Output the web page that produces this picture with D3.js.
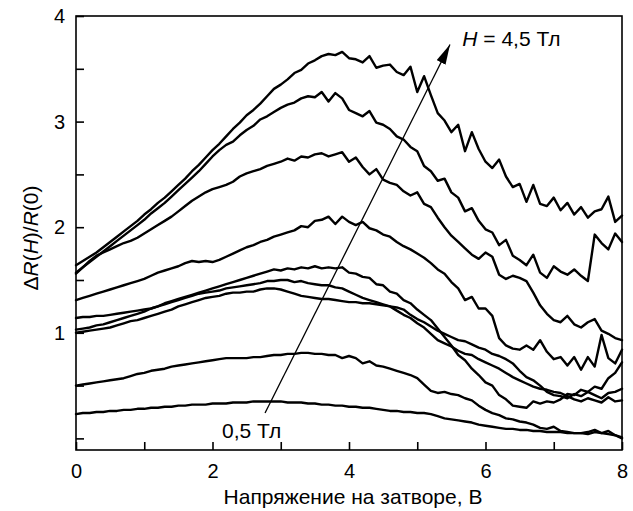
<!DOCTYPE html>
<html><head><meta charset="utf-8">
<script src="https://cdn.jsdelivr.net/npm/d3@7"></script>
<style>
html,body{margin:0;padding:0;background:#fff;}
svg text{font-family:"Liberation Sans",Arial,Helvetica,sans-serif;fill:#000;}
</style></head>
<body>
<svg id="chart" width="633" height="511"></svg>
<script>
// Gate voltage samples (V)
const voltage = d3.range(0, 81).map(i => i / 10);

// ΔR(H)/R(0) for each magnetic field (Тл)
const fields = [0.5, 1.0, 1.5, 2.0, 2.5, 3.0, 3.5, 4.0, 4.5];

const r05 = [0.23,0.24,0.24,0.25,0.25,0.26,0.26,0.27,0.27,0.28,0.28,0.29,0.29,0.30,0.30,0.31,0.31,0.32,0.32,0.32,
0.33,0.33,0.33,0.34,0.34,0.34,0.35,0.35,0.35,0.35,0.35,0.34,0.34,0.34,0.33,0.33,0.32,0.32,0.31,0.31,
0.30,0.30,0.29,0.29,0.28,0.27,0.26,0.26,0.25,0.25,0.24,0.24,0.23,0.21,0.19,0.18,0.17,0.16,0.15,0.13,
0.12,0.11,0.10,0.09,0.09,0.08,0.08,0.07,0.07,0.06,0.06,0.06,0.05,0.05,0.05,0.04,0.06,0.05,0.07,0.03,0.01];

const r10 = [0.50,0.51,0.52,0.53,0.54,0.55,0.56,0.57,0.59,0.61,0.62,0.64,0.65,0.66,0.68,0.69,0.70,0.71,0.72,0.73,
0.74,0.75,0.76,0.76,0.76,0.76,0.77,0.77,0.78,0.79,0.79,0.80,0.80,0.81,0.81,0.80,0.80,0.79,0.79,0.76,
0.78,0.76,0.71,0.73,0.69,0.68,0.66,0.64,0.62,0.60,0.57,0.51,0.45,0.43,0.44,0.42,0.41,0.38,0.36,0.31,
0.27,0.24,0.22,0.19,0.18,0.16,0.15,0.13,0.10,0.09,0.11,0.07,0.06,0.05,0.05,0.06,0.08,0.05,0.04,0.03,0.00];

const r15 = [1.00,1.01,1.02,1.03,1.04,1.05,1.07,1.09,1.11,1.12,1.14,1.16,1.18,1.20,1.22,1.25,1.27,1.29,1.31,1.33,
1.34,1.35,1.37,1.38,1.38,1.39,1.39,1.41,1.42,1.42,1.41,1.39,1.37,1.35,1.34,1.33,1.32,1.32,1.31,1.30,
1.29,1.29,1.28,1.28,1.27,1.26,1.25,1.21,1.17,1.14,1.09,1.05,0.99,0.93,0.90,0.87,0.83,0.80,0.79,0.75,
0.72,0.69,0.66,0.62,0.58,0.55,0.52,0.49,0.47,0.46,0.44,0.43,0.40,0.37,0.35,0.38,0.36,0.34,0.39,0.35,0.36];

const r20 = [1.14,1.15,1.15,1.16,1.16,1.17,1.18,1.19,1.20,1.21,1.22,1.23,1.25,1.27,1.29,1.31,1.33,1.35,1.37,1.38,
1.39,1.40,1.42,1.43,1.44,1.45,1.46,1.47,1.49,1.49,1.50,1.50,1.48,1.49,1.47,1.46,1.45,1.45,1.43,1.42,
1.39,1.36,1.33,1.31,1.29,1.27,1.25,1.24,1.22,1.17,1.13,1.10,1.06,1.02,0.99,0.96,0.93,0.92,0.89,0.86,
0.84,0.80,0.78,0.75,0.71,0.64,0.58,0.55,0.50,0.44,0.41,0.40,0.38,0.42,0.40,0.44,0.41,0.38,0.43,0.44,0.47];

const r25 = [1.03,1.04,1.05,1.07,1.08,1.10,1.12,1.14,1.16,1.18,1.20,1.23,1.25,1.28,1.30,1.32,1.34,1.36,1.38,1.40,
1.42,1.44,1.46,1.48,1.50,1.52,1.54,1.56,1.58,1.60,1.59,1.61,1.60,1.62,1.61,1.63,1.61,1.62,1.61,1.62,
1.57,1.56,1.53,1.52,1.46,1.45,1.39,1.37,1.31,1.28,1.22,1.17,1.12,1.04,0.96,0.88,0.79,0.74,0.66,0.60,
0.53,0.50,0.41,0.37,0.31,0.30,0.29,0.35,0.33,0.35,0.34,0.37,0.42,0.41,0.46,0.44,0.49,0.47,0.57,0.62,0.72];

const r30 = [1.31,1.33,1.35,1.37,1.39,1.41,1.43,1.45,1.47,1.49,1.51,1.54,1.57,1.59,1.61,1.63,1.66,1.68,1.67,1.68,
1.67,1.69,1.72,1.75,1.78,1.81,1.83,1.86,1.88,1.91,1.93,1.95,1.97,2.01,2.00,2.06,2.07,2.10,2.03,2.10,
2.05,2.02,2.05,1.99,1.97,1.93,1.91,1.86,1.82,1.79,1.75,1.71,1.66,1.60,1.56,1.48,1.42,1.31,1.34,1.23,
1.23,1.16,0.95,0.88,0.85,0.84,0.88,0.84,0.93,0.82,0.75,0.77,0.69,0.77,0.65,0.77,0.68,0.98,0.76,0.71,0.84];

const r35 = [1.56,1.62,1.68,1.73,1.76,1.79,1.82,1.85,1.87,1.90,1.94,1.98,2.02,2.06,2.10,2.15,2.20,2.25,2.29,2.33,
2.36,2.38,2.40,2.43,2.48,2.51,2.53,2.55,2.58,2.60,2.62,2.65,2.63,2.67,2.66,2.69,2.70,2.67,2.69,2.71,
2.62,2.66,2.57,2.50,2.55,2.45,2.42,2.40,2.34,2.30,2.33,2.22,2.19,2.09,2.00,1.92,1.86,1.80,1.74,1.70,
1.76,1.72,1.55,1.51,1.54,1.52,1.49,1.38,1.26,1.18,1.12,1.10,1.16,1.08,1.05,1.10,1.13,1.02,0.99,0.95,0.93];

const r40 = [1.57,1.62,1.67,1.72,1.77,1.82,1.87,1.92,1.97,2.02,2.07,2.13,2.18,2.23,2.29,2.35,2.41,2.47,2.53,2.60,
2.67,2.73,2.78,2.81,2.87,2.92,2.96,3.02,3.05,3.09,3.13,3.16,3.18,3.22,3.24,3.23,3.28,3.19,3.27,3.22,
3.11,3.08,3.05,3.10,2.99,2.97,2.93,2.86,2.83,2.76,2.72,2.58,2.53,2.44,2.46,2.33,2.28,2.15,2.18,2.06,
1.98,1.95,1.83,1.88,1.73,1.69,1.64,1.74,1.57,1.52,1.63,1.58,1.55,1.60,1.54,1.49,1.93,1.85,1.79,1.94,1.86];

const r45 = [1.64,1.68,1.72,1.76,1.81,1.86,1.91,1.96,2.01,2.06,2.12,2.17,2.23,2.28,2.34,2.40,2.46,2.53,2.59,2.66,
2.73,2.79,2.86,2.93,2.99,3.06,3.11,3.17,3.24,3.31,3.35,3.40,3.46,3.49,3.55,3.58,3.62,3.64,3.63,3.66,
3.60,3.59,3.56,3.62,3.51,3.53,3.54,3.47,3.44,3.52,3.28,3.43,3.25,3.08,3.01,2.90,2.97,2.72,2.90,2.74,
2.62,2.56,2.64,2.48,2.38,2.41,2.24,2.40,2.22,2.20,2.28,2.16,2.23,2.12,2.19,2.09,2.15,2.17,2.29,2.05,2.11];

const seriesValues = [r05, r10, r15, r20, r25, r30, r35, r40, r45];

const xTicks = [0,1,2,3,4,5,6,7,8];
const xTickLabels = ["0","","2","","4","","6","","8"];
const yTicks = [0,0.5,1,1.5,2,2.5,3,3.5,4];
const yTickLabels = ["","","1","","2","","3","","4"];

const xTitle = "Напряжение на затворе, В";
const arrowFrom = [2.77, 0.24];   // annotation arrow, data coords
const arrowTo = [5.48, 3.73];
const labelLow = {x: 2.14, y: 0.0, text: "0,5 Тл"};
const labelHigh = {x: 5.66, y: 3.72, value: "4,5 Тл"};

const svg = d3.select("#chart");
const mLeft = 76, mRight = 622, mTop = 16, mBottom = 450;
const x = d3.scaleLinear().domain([0, 8]).range([mLeft, mRight]);
const y = d3.scaleLinear().domain([-0.11, 4]).range([mBottom, mTop]);

// curves
const line = d3.line().x((d, i) => x(voltage[i])).y(d => y(d));
svg.append("g").selectAll("path").data(seriesValues).join("path")
  .attr("d", d => line(d))
  .attr("fill", "none").attr("stroke", "#000").attr("stroke-width", 2.4)
  .attr("stroke-linejoin", "round").attr("stroke-linecap", "round");

// frame
svg.append("rect").attr("x", mLeft).attr("y", mTop)
  .attr("width", mRight - mLeft).attr("height", mBottom - mTop)
  .attr("fill", "none").attr("stroke", "#000").attr("stroke-width", 1.6);

// axes (ticks inward)
const xAxis = d3.axisBottom(x).tickValues(xTicks).tickSize(-8).tickPadding(14)
  .tickFormat((d, i) => xTickLabels[i]);
const gx = svg.append("g").attr("transform", `translate(0,${mBottom})`).call(xAxis);
const yAxis = d3.axisLeft(y).tickValues(yTicks).tickSize(-8).tickPadding(11)
  .tickFormat((d, i) => yTickLabels[i]);
const gy = svg.append("g").attr("transform", `translate(${mLeft},0)`).call(yAxis);
[gx, gy].forEach(g => {
  g.select(".domain").remove();
  g.selectAll(".tick line").attr("stroke", "#000").attr("stroke-width", 1.6);
  g.selectAll(".tick text").attr("font-size", 20).attr("font-family", "Liberation Sans, Arial, sans-serif").attr("fill", "#000");
});
gx.selectAll(".tick text").attr("dy", "0.71em");

// axis titles
svg.append("text").attr("x", (mLeft + mRight) / 2 + 4).attr("y", 504)
  .attr("text-anchor", "middle").attr("font-size", 21).text(xTitle);

const yt = svg.append("text").attr("transform", "translate(38,238) rotate(-90)")
  .attr("text-anchor", "middle").attr("font-size", 21);
yt.append("tspan").text("Δ");
yt.append("tspan").attr("font-style", "italic").text("R");
yt.append("tspan").text("(");
yt.append("tspan").attr("font-style", "italic").text("H");
yt.append("tspan").text(")/");
yt.append("tspan").attr("font-style", "italic").text("R");
yt.append("tspan").text("(0)");

// arrow annotation
const defs = svg.append("defs");
defs.append("marker").attr("id", "ah").attr("viewBox", "0 0 20 10")
  .attr("refX", 20).attr("refY", 5).attr("markerUnits", "userSpaceOnUse")
  .attr("markerWidth", 20).attr("markerHeight", 10).attr("orient", "auto")
  .append("path").attr("d", "M0,0 L20,5 L0,10 Z").attr("fill", "#000");
svg.append("line")
  .attr("x1", x(arrowFrom[0])).attr("y1", y(arrowFrom[1]))
  .attr("x2", x(arrowTo[0])).attr("y2", y(arrowTo[1]))
  .attr("stroke", "#000").attr("stroke-width", 1.3).attr("marker-end", "url(#ah)");

svg.append("text").attr("x", x(labelLow.x)).attr("y", y(labelLow.y))
  .attr("font-size", 21).text(labelLow.text);
const th = svg.append("text").attr("x", x(labelHigh.x)).attr("y", y(labelHigh.y)).attr("font-size", 21);
th.append("tspan").attr("font-style", "italic").text("H");
th.append("tspan").text(" = " + labelHigh.value);
</script>
</body></html>
